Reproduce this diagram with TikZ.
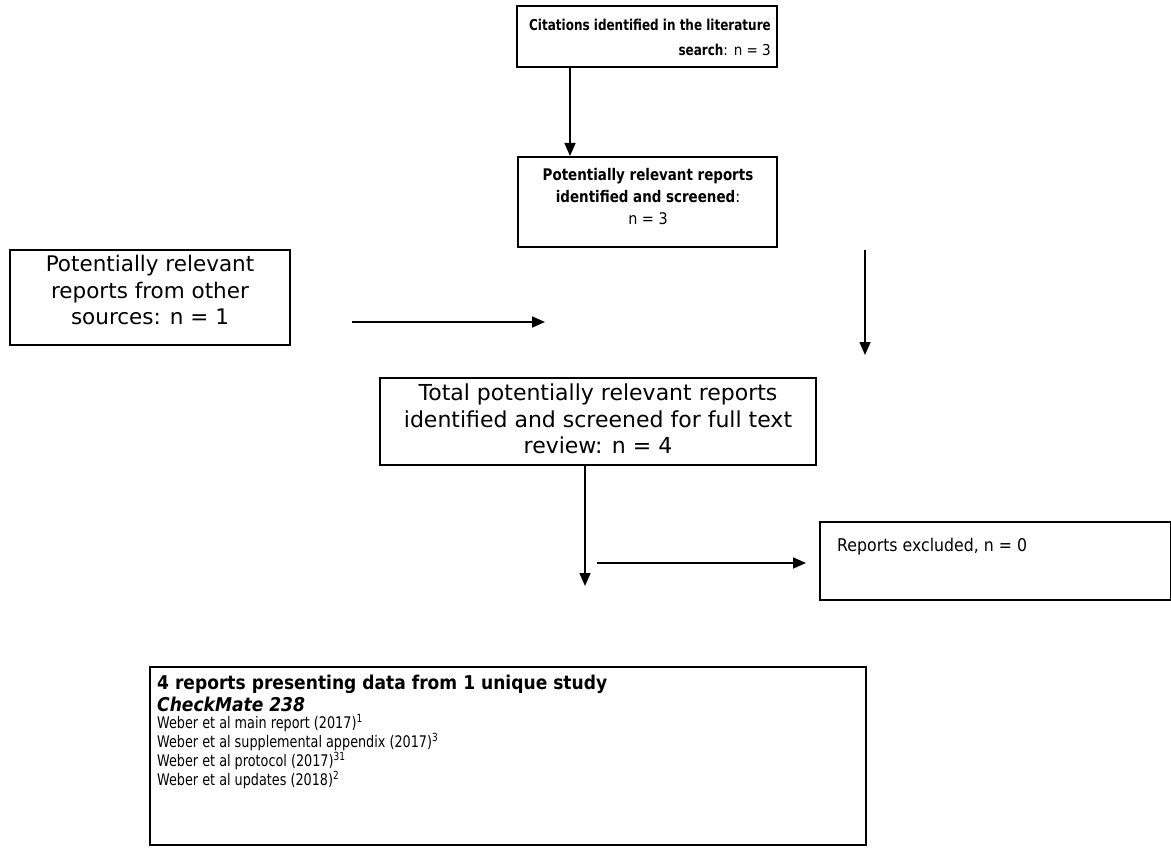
\documentclass[tikz,border=0pt]{standalone}
\usepackage{fontspec}
\setmainfont{DejaVu Sans}[FakeStretch=0.9]
\newfontfamily\widefont{DejaVu Sans}
\newfontfamily\boldnarrow{DejaVu Sans Bold}[FakeStretch=0.8]
\newfontfamily\boldmid{DejaVu Sans Bold}[FakeStretch=0.84]
\newfontfamily\narrowfont{DejaVu Sans}[FakeStretch=0.8]
\usetikzlibrary{arrows.meta}
\tikzset{
  box/.style={draw=black, line width=2pt, inner sep=0pt},
  bigtxt/.style={inner sep=0pt, align=center, font=\widefont\fontsize{22}{26.5}\selectfont},
  boldtxt/.style={inner sep=0pt, font=\fontsize{15.5}{22}\selectfont},
  weber/.style={inner sep=0pt, anchor=west, font=\narrowfont\fontsize{16}{19}\selectfont},
  arr/.style={draw=black, line width=1.6pt, -{Triangle[length=13pt,width=11pt]}},
}
\begin{document}
\begin{tikzpicture}[x=1pt,y=-1pt]
\useasboundingbox (0,0) rectangle (1171,848);
% boxes
\node[box, minimum width=260pt, minimum height=61pt] (b1) at (647,36.5) {};
\node[boldtxt, font=\fontsize{15}{25}\selectfont, align=right, anchor=east] (t1) at (771,37)
  {{\boldnarrow Citations identified in the literature}\\{\boldnarrow search}: n = 3};
\node[box, minimum width=259pt, minimum height=90pt] (b2) at (647.5,202) {};
\node[boldtxt, font=\fontsize{16}{22}\selectfont, align=center, anchor=north] (t2) at (648,168)
  {{\boldmid Potentially relevant reports}\\{\boldmid identified and screened}:\\n = 3};
\node[box, minimum width=280pt, minimum height=95pt] (b3) at (150,297.5) {};
\node[bigtxt, font=\widefont\fontsize{21.5}{26.5}\selectfont] (t3) at (150,290) {Potentially relevant\\reports from other\\sources: n = 1};
\node[box, minimum width=436pt, minimum height=87pt] (b4) at (598,421.5) {};
\node[bigtxt] (t4) at (598,419) {Total potentially relevant reports\\identified and screened for full text\\review: n = 4};
\node[box, minimum width=351pt, minimum height=78pt] (b5) at (995.5,561) {};
\node[anchor=west, inner sep=0pt, font=\fontsize{17.5}{22}\selectfont] (t5) at (837,547) {Reports excluded, n = 0};
\node[box, minimum width=716pt, minimum height=178pt] (b6) at (508,756) {};
\node[inner sep=0pt, anchor=west, font=\fontsize{19}{22}\selectfont\bfseries] (t6a) at (157,684) {4 reports presenting data from 1 unique study};
\node[inner sep=0pt, anchor=west, font=\fontsize{19}{22}\selectfont\bfseries\itshape] (t6b) at (157,704) {CheckMate 238};
\node[weber] (t6c) at (157,723) {Weber et al main report (2017)\textsuperscript{1}};
\node[weber] (t6d) at (157,742) {Weber et al supplemental appendix (2017)\textsuperscript{3}};
\node[weber] (t6e) at (157,761) {Weber et al protocol (2017)\textsuperscript{31}};
\node[weber] (t6f) at (157,780) {Weber et al updates (2018)\textsuperscript{2}};
% arrow coordinates
\coordinate (a1s) at (570,67);
\coordinate (a1e) at (570,156);
\coordinate (a2s) at (352,322);
\coordinate (a2e) at (545,322);
\coordinate (a3s) at (865,250);
\coordinate (a3e) at (865,355);
\coordinate (a4s) at (585,465);
\coordinate (a4e) at (585,586);
\coordinate (a5s) at (597,563);
\coordinate (a5e) at (806,563);
\draw[arr] (a1s) -- (a1e);
\draw[arr] (a2s) -- (a2e);
\draw[arr] (a3s) -- (a3e);
\draw[arr] (a4s) -- (a4e);
\draw[arr] (a5s) -- (a5e);
\end{tikzpicture}
\end{document}
